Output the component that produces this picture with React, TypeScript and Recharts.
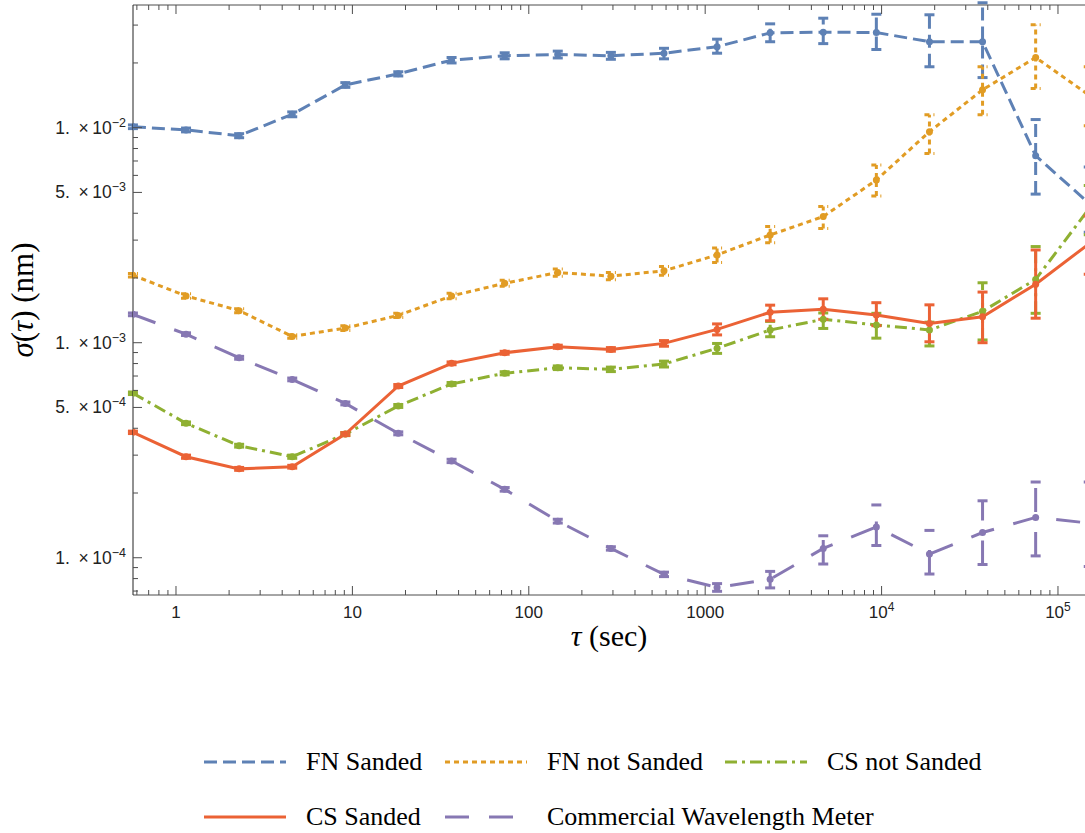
import React from "react";
import { LineChart, Line, XAxis, YAxis, ErrorBar } from "recharts";

// averaging time (s)
const tau = [0.57, 1.14, 2.28, 4.56, 9.12, 18.2, 36.5, 73, 146, 292, 584, 1168, 2335, 4670, 9340, 18680, 37360, 74720, 149440];

const fnSanded = [0.0101, 0.00976, 0.00918, 0.01154, 0.0158, 0.0178, 0.0206, 0.0216, 0.0219, 0.0216, 0.0222, 0.0238, 0.0276, 0.0278, 0.0277, 0.0251, 0.0251, 0.00741, 0.00446];
const fnSandedErr = [[0.0002, 0.0002], [0.0002, 0.0002], [0.0002, 0.0002], [0.0003, 0.0003], [0.0004, 0.0004], [0.0004, 0.0004], [0.0006, 0.0006], [0.0007, 0.0007], [0.0008, 0.0008], [0.0008, 0.0008], [0.0013, 0.0012], [0.0016, 0.002], [0.0025, 0.0028], [0.0032, 0.0045], [0.0046, 0.006], [0.0059, 0.0084], [0.008, 0.013], [0.0025, 0.0035], [0.0012, 0.0021]];

const fnNotSanded = [0.00206, 0.00165, 0.00141, 0.00107, 0.00117, 0.00134, 0.00165, 0.00189, 0.00212, 0.00204, 0.00216, 0.00256, 0.00317, 0.00386, 0.00571, 0.00958, 0.015, 0.0212, 0.0142];
const fnNotSandedErr = [[0.00004, 0.00004], [0.00004, 0.00004], [0.00003, 0.00003], [0.00002, 0.00002], [0.00003, 0.00003], [0.00003, 0.00003], [0.00005, 0.00005], [0.00006, 0.00006], [0.00008, 0.00008], [0.00008, 0.00008], [0.0001, 0.0001], [0.0002, 0.0002], [0.00025, 0.0003], [0.00046, 0.00044], [0.0009, 0.001], [0.002, 0.0019], [0.0035, 0.0042], [0.006, 0.0089], [0.004, 0.005]];

const csNotSanded = [0.000582, 0.000422, 0.000332, 0.000295, 0.000376, 0.000508, 0.000643, 0.000721, 0.000765, 0.000752, 0.000796, 0.000942, 0.001146, 0.001285, 0.00121, 0.001146, 0.0014, 0.00197, 0.00418];
const csNotSandedErr = [[0.000008, 0.000008], [0.000006, 0.000006], [0.000005, 0.000005], [0.000005, 0.000005], [0.000006, 0.000006], [0.000008, 0.000008], [0.00001, 0.00001], [0.000012, 0.000012], [0.000015, 0.000015], [0.000018, 0.000018], [0.000025, 0.000025], [0.00005, 0.00005], [0.00008, 0.00011], [0.00012, 0.00009], [0.00016, 0.00016], [0.00018, 0.0001], [0.00037, 0.0005], [0.0006, 0.00083], [0.001, 0.0012]];

const csSanded = [0.000383, 0.000295, 0.000259, 0.000265, 0.000376, 0.000629, 0.000802, 0.000898, 0.000958, 0.000931, 0.000993, 0.001153, 0.001385, 0.00143, 0.001345, 0.00123, 0.00132, 0.00187, 0.00288];
const csSandedErr = [[0.000005, 0.000005], [0.000005, 0.000005], [0.000004, 0.000004], [0.000004, 0.000004], [0.000006, 0.000006], [0.00001, 0.00001], [0.000012, 0.000012], [0.000014, 0.000014], [0.000016, 0.000016], [0.000018, 0.000018], [0.00003, 0.00003], [0.000066, 0.00007], [0.00012, 0.00011], [0.000145, 0.00017], [0.000145, 0.00019], [0.00022, 0.00027], [0.00032, 0.0004], [0.00057, 0.00083], [0.0008, 0.001]];

const meter = [0.001355, 0.001096, 0.000851, 0.000675, 0.000522, 0.000379, 0.000282, 0.000208, 0.000148, 0.0001105, 0.0000837, 0.0000728, 0.0000794, 0.0001105, 0.000139, 0.000104, 0.000131, 0.000154, 0.000145];
const meterErr = [[0.00002, 0.00002], [0.000016, 0.000016], [0.000013, 0.000013], [0.00001, 0.00001], [0.000008, 0.000008], [0.000006, 0.000006], [0.000005, 0.000005], [0.000004, 0.000004], [0.000003, 0.000003], [0.000002, 0.000002], [0.000002, 0.000002], [0.000003, 0.000003], [0.000007, 0.000007], [0.000017, 0.000016], [0.000025, 0.000037], [0.00002, 0.00003], [0.000038, 0.000053], [0.000052, 0.000071], [0.000054, 0.00008]];

const xMajor = [1, 10, 100, 1000, 10000, 100000];
const xMinor = [0.6, 0.7, 0.8, 0.9, 2, 3, 4, 5, 6, 7, 8, 9, 20, 30, 40, 50, 60, 70, 80, 90, 200, 300, 400, 500, 600, 700, 800, 900, 2000, 3000, 4000, 5000, 6000, 7000, 8000, 9000, 20000, 30000, 40000, 50000, 60000, 70000, 80000, 90000];
const yMajor = [1e-4, 5e-4, 1e-3, 5e-3, 1e-2];
const yMinor = [7e-5, 8e-5, 9e-5, 2e-4, 3e-4, 4e-4, 6e-4, 7e-4, 8e-4, 9e-4, 2e-3, 3e-3, 4e-3, 6e-3, 7e-3, 8e-3, 9e-3, 2e-2, 3e-2];

const xDomain = [0.5705, 142300];
const yDomain = [6.71e-5, 0.0372];

const SANS = "'Liberation Sans', Arial, sans-serif";
const SERIF = "'Liberation Serif', 'Times New Roman', serif";
const AXIS = "#4d4d4d";

const series = [
  { key: "fnS", name: "FN Sanded", color: "#5E81B5", dash: "13 6", values: fnSanded, errors: fnSandedErr },
  { key: "fnN", name: "FN not Sanded", color: "#E19C24", dash: "5 4", values: fnNotSanded, errors: fnNotSandedErr },
  { key: "csN", name: "CS not Sanded", color: "#8FB032", dash: "12 5 3 5", values: csNotSanded, errors: csNotSandedErr },
  { key: "csS", name: "CS Sanded", color: "#EB6235", dash: undefined, values: csSanded, errors: csSandedErr },
  { key: "cwm", name: "Commercial Wavelength Meter", color: "#8778B3", dash: "24 20", values: meter, errors: meterErr },
];

const rows = tau.map((t, i) => {
  const r: any = { tau: t };
  series.forEach((s) => {
    r[s.key] = s.values[i];
    r[s.key + "Err"] = s.errors[i];
  });
  return r;
});

function XLabel({ x, y, v }: any) {
  if (v < 10000) {
    return (
      <text x={x} y={y} textAnchor="middle" fontFamily={SANS} fontSize={17} fill="#222">
        {v}
      </text>
    );
  }
  const e = Math.round(Math.log10(v));
  return (
    <text x={x} y={y} textAnchor="middle" fontFamily={SANS} fontSize={17} fill="#222">
      10<tspan dy={-7} fontSize={12}>{e}</tspan>
    </text>
  );
}

function BottomTick({ x, y, payload }: any) {
  const v = payload.value;
  const major = xMajor.includes(v);
  return (
    <g>
      <line x1={x} x2={x} y1={y} y2={y - (major ? 9 : 5)} stroke={AXIS} />
      {major && <XLabel x={x} y={y + 23} v={v} />}
    </g>
  );
}

function TopTick({ x, y, payload }: any) {
  const major = xMajor.includes(payload.value);
  return <line x1={x} x2={x} y1={y} y2={y + (major ? 9 : 5)} stroke={AXIS} />;
}

function LeftTick({ x, y, payload }: any) {
  const v = payload.value;
  const major = yMajor.includes(v);
  const e = Math.floor(Math.log10(v) + 1e-9);
  const m = Math.round(v / Math.pow(10, e));
  return (
    <g>
      <line x1={x} x2={x + (major ? 9 : 5)} y1={y} y2={y} stroke={AXIS} />
      {major && (
        <text x={x - 7} y={y + 6} textAnchor="end" fontFamily={SANS} fontSize={17.5} fill="#222">
          {m}.{"\u2002"}×{"\u2009"}10<tspan dy={-7} fontSize={12.5}>{"\u2212" + Math.abs(e)}</tspan>
        </text>
      )}
    </g>
  );
}

function RightTick({ x, y, payload }: any) {
  const major = yMajor.includes(payload.value);
  return <line x1={x} x2={x - (major ? 9 : 5)} y1={y} y2={y} stroke={AXIS} />;
}

function XTitle({ viewBox }: any) {
  const vb = viewBox || { x: 133, y: 595, width: 952 };
  return (
    <text x={vb.x + vb.width / 2} y={vb.y + 51} textAnchor="middle" fontFamily={SERIF} fontSize={30} fill="#000">
      <tspan fontStyle="italic">τ</tspan> (sec)
    </text>
  );
}

function YTitle({ viewBox }: any) {
  const vb = viewBox || { x: 0, y: 5, height: 590 };
  const cx = vb.x + 33;
  const cy = vb.y + vb.height / 2;
  return (
    <text
      x={cx}
      y={cy}
      transform={`rotate(-90 ${cx} ${cy})`}
      textAnchor="middle"
      fontFamily={SERIF}
      fontSize={31}
      fill="#000"
    >
      <tspan fontStyle="italic">σ</tspan>(<tspan fontStyle="italic">τ</tspan>) (nm)
    </text>
  );
}

function LegendItem({ s, left, top }: any) {
  return (
    <div style={{ position: "absolute", left, top, display: "flex", alignItems: "center", height: 30 }}>
      <svg width={84} height={10} style={{ display: "block" }}>
        <line x1={0} x2={s.key === "cwm" ? 74 : 82} y1={5} y2={5} stroke={s.color} strokeWidth={3} strokeDasharray={s.dash} />
      </svg>
      <span style={{ marginLeft: 18, fontFamily: SERIF, fontSize: 26, color: "#000", whiteSpace: "nowrap" }}>{s.name}</span>
    </div>
  );
}

export default function App() {
  return (
    <div style={{ position: "absolute", left: 0, top: 0, width: 1085, height: 833, background: "#fff" }}>
      <LineChart width={1085} height={833} data={rows} margin={{ top: 0, right: 0, bottom: 198, left: 0 }}>
        <XAxis
          xAxisId="x"
          dataKey="tau"
          type="number"
          scale="log"
          domain={xDomain}
          allowDataOverflow
          ticks={[...xMajor, ...xMinor]}
          interval={0}
          tick={<BottomTick />}
          tickLine={false}
          tickSize={0}
          tickMargin={0}
          height={40}
          axisLine={{ stroke: AXIS }}
          label={<XTitle />}
        />
        <XAxis
          xAxisId="xt"
          orientation="top"
          dataKey="tau"
          type="number"
          scale="log"
          domain={xDomain}
          allowDataOverflow
          ticks={[...xMajor, ...xMinor]}
          interval={0}
          tick={<TopTick />}
          tickLine={false}
          tickSize={0}
          tickMargin={0}
          height={5}
          axisLine={{ stroke: AXIS }}
        />
        <YAxis
          yAxisId="y"
          type="number"
          scale="log"
          domain={yDomain}
          allowDataOverflow
          ticks={[...yMajor, ...yMinor]}
          interval={0}
          tick={<LeftTick />}
          tickLine={false}
          tickSize={0}
          tickMargin={0}
          width={133}
          axisLine={{ stroke: "#222" }}
          label={<YTitle />}
        />
        <YAxis
          yAxisId="yr"
          orientation="right"
          type="number"
          scale="log"
          domain={yDomain}
          allowDataOverflow
          ticks={[...yMajor, ...yMinor]}
          interval={0}
          tick={<RightTick />}
          tickLine={false}
          tickSize={0}
          tickMargin={0}
          width={0}
          axisLine={false}
        />
        {series.map((s) => (
          <Line
            key={s.key}
            xAxisId="x"
            yAxisId="y"
            dataKey={s.key}
            name={s.name}
            stroke={s.color}
            strokeWidth={3}
            strokeDasharray={s.dash}
            dot={{ r: 3.5, fill: s.color, stroke: s.color, strokeWidth: 0 }}
            activeDot={false}
            isAnimationActive={false}
          >
            <ErrorBar
              dataKey={s.key + "Err"}
              direction="y"
              width={5}
              stroke={s.color}
              strokeWidth={3}
              strokeDasharray={s.dash}
            />
          </Line>
        ))}
      </LineChart>
      <LegendItem s={series[0]} left={204} top={747} />
      <LegendItem s={series[1]} left={445} top={747} />
      <LegendItem s={series[2]} left={725} top={747} />
      <LegendItem s={series[3]} left={204} top={802} />
      <LegendItem s={series[4]} left={445} top={802} />
    </div>
  );
}
